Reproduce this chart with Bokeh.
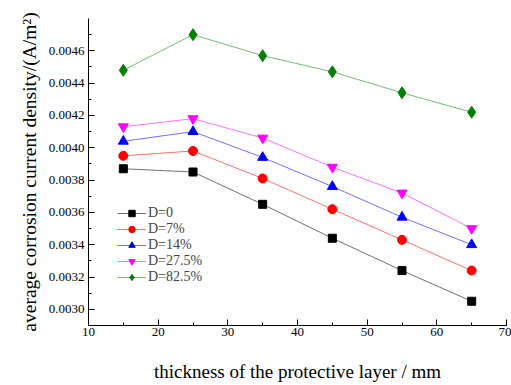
from bokeh.plotting import figure
from bokeh.models import Range1d, Legend, LegendItem, PrintfTickFormatter, SingleIntervalTicker
from bokeh.embed import file_html
from bokeh.resources import INLINE

thickness = [15, 25, 35, 45, 55, 65]
d0 = [0.00387, 0.00385, 0.00365, 0.00344, 0.00324, 0.00305]
d7 = [0.00395, 0.00398, 0.00381, 0.00362, 0.00343, 0.00324]
d14 = [0.00404, 0.00410, 0.00394, 0.00376, 0.00357, 0.00340]
d275 = [0.00413, 0.00418, 0.00406, 0.00388, 0.00372, 0.00350]
d825 = [0.00448, 0.00470, 0.00457, 0.00447, 0.00434, 0.00422]
labels = ["D=0", "D=7%", "D=14%", "D=27.5%", "D=82.5%"]
series = [d0, d7, d14, d275, d825]

line_colors = ["#707070", "#ff7070", "#7070ff", "#ff70ff", "#70c070"]
marker_colors = ["#000000", "#ff0000", "#0000ff", "#ff00ff", "#008000"]
markers = ["square", "circle", "triangle", "inverted_triangle", "diamond"]
sizes = [8, 9, 10, 10, 12]

FONT = "'Liberation Serif', 'Times New Roman', serif"

p = figure(width=511, height=385, output_backend="svg", toolbar_location=None,
           x_range=Range1d(10, 70), y_range=Range1d(0.0029, 0.0048),
           min_border_left=88, min_border_right=5, min_border_top=18, min_border_bottom=60)
p.background_fill_color = "white"
p.border_fill_color = "white"
p.outline_line_color = None
p.grid.visible = False

items = []
for s, lab, lc, mc, mk, sz in zip(series, labels, line_colors, marker_colors, markers, sizes):
    r1 = p.line(thickness, s, line_color=lc, line_width=1)
    r2 = p.scatter(thickness, s, marker=mk, size=sz, fill_color=mc, line_color=mc)
    items.append(LegendItem(label=lab, renderers=[r1, r2]))

legend = Legend(items=items, location=(29, 40), background_fill_alpha=0,
                border_line_color=None, label_text_font=FONT, label_text_font_size="14px",
                glyph_width=29, glyph_height=16, label_height=16, spacing=0, padding=4,
                label_standoff=2, margin=0)
p.add_layout(legend, "center")

p.xaxis.ticker = SingleIntervalTicker(interval=10, num_minor_ticks=2)
p.yaxis.ticker = SingleIntervalTicker(interval=0.0002, num_minor_ticks=2)
p.yaxis.formatter = PrintfTickFormatter(format="%.4f")

for ax in (p.xaxis[0], p.yaxis[0]):
    ax.major_tick_in = 6
    ax.major_tick_out = 0
    ax.minor_tick_in = 3
    ax.minor_tick_out = 0
    ax.axis_line_color = "black"
    ax.major_tick_line_color = "black"
    ax.minor_tick_line_color = "black"
    ax.major_label_text_font = FONT
    ax.major_label_text_font_size = "13px"
    ax.major_label_text_color = "black"
    ax.axis_label_text_font = FONT
    ax.axis_label_text_font_size = "19px"
    ax.axis_label_text_font_style = "normal"
    ax.axis_label_text_color = "black"

p.yaxis.axis_label_text_font_size = "19.5px"
p.xaxis.axis_label = "thickness of the protective layer / mm"
p.yaxis.axis_label = "average corrosion current density/(A/m²)"
p.xaxis.axis_label_standoff = 22
p.yaxis.axis_label_standoff = 6
p.xaxis.major_label_standoff = 2
p.yaxis.major_label_standoff = 4

open("out.html", "w").write(file_html(p, INLINE))
